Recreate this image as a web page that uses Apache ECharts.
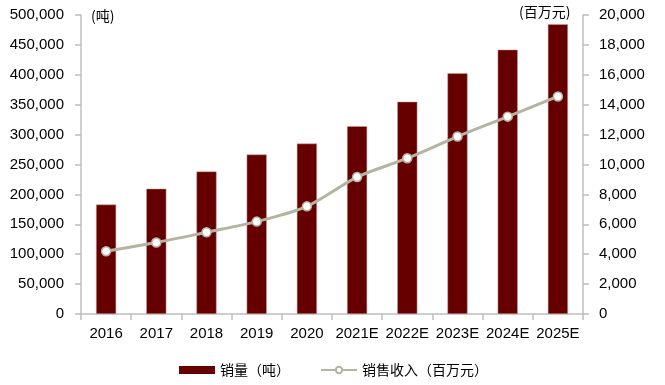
<!DOCTYPE html>
<html><head><meta charset="utf-8">
<script src="https://cdn.jsdelivr.net/npm/echarts@6/dist/echarts.min.js"></script>
<style>html,body{margin:0;padding:0;background:#fff}#c{width:665px;height:385px}</style>
</head><body><div id="c"></div>
<script>
const categories = ['2016','2017','2018','2019','2020','2021E','2022E','2023E','2024E','2025E'];
const salesVolume = [183000, 209500, 238300, 266700, 285000, 314000, 355000, 402500, 442000, 484500];
const salesRevenue = [4200, 4780, 5470, 6180, 7200, 9160, 10420, 11870, 13200, 14550];
const leftTicks = {min: 0, max: 500000, interval: 50000};
const rightTicks = {min: 0, max: 20000, interval: 2000};

const chart = echarts.init(document.getElementById('c'));
const fmt = v => v.toLocaleString('en-US');
const lab = {color: '#000', fontSize: 15, fontFamily: 'Liberation Sans, Arial'};
chart.setOption({
  animation: false,
  grid: {left: 81, right: 82, top: 15, bottom: 71},
  legend: {
    left: 174, top: 358, itemGap: 30, itemWidth: 36, itemHeight: 8,
    textStyle: {fontSize: 14, color: '#000', fontFamily: 'Noto Sans CJK SC'},
    data: [{name: '销量（吨）', icon: 'rect', itemStyle: {borderWidth: 0}}, {name: '销售收入（百万元）'}]
  },
  graphic: [
    {type: 'text', left: 91, top: 9, style: {text: '(吨)', fontSize: 14, fill: '#000', fontFamily: 'Noto Sans CJK SC'}},
    {type: 'text', left: 519, top: 5, style: {text: '(百万元)', fontSize: 14, fill: '#000', fontFamily: 'Noto Sans CJK SC'}}
  ],
  xAxis: {
    type: 'category', data: categories,
    axisLine: {lineStyle: {color: '#bfbfbf', width: 1.5}},
    axisTick: {show: true, length: 6, lineStyle: {color: '#bfbfbf', width: 1.5}},
    axisLabel: Object.assign({margin: 12, interval: 0}, lab)
  },
  yAxis: [
    {type: 'value', min: leftTicks.min, max: leftTicks.max, interval: leftTicks.interval,
     splitLine: {show: false},
     axisLine: {show: true, lineStyle: {color: '#bfbfbf', width: 1.5}},
     axisTick: {show: true, length: 6, lineStyle: {color: '#bfbfbf', width: 1.5}},
     axisLabel: Object.assign({margin: 17, formatter: fmt}, lab)},
    {type: 'value', min: rightTicks.min, max: rightTicks.max, interval: rightTicks.interval,
     splitLine: {show: false},
     axisLine: {show: true, lineStyle: {color: '#bfbfbf', width: 1.5}},
     axisTick: {show: true, length: 6, lineStyle: {color: '#bfbfbf', width: 1.5}},
     axisLabel: Object.assign({margin: 16, formatter: fmt}, lab)}
  ],
  series: [
    {name: '销量（吨）', type: 'bar', data: salesVolume, barWidth: '40%',
     itemStyle: {color: '#660000', borderColor: '#c9a0a0', borderWidth: 0.5}},
    {name: '销售收入（百万元）', type: 'line', yAxisIndex: 1, data: salesRevenue, smooth: 0.3,
     symbol: 'circle', symbolSize: 9,
     lineStyle: {color: '#b5b4a2', width: 3},
     itemStyle: {color: '#fff', borderColor: '#b5b4a2', borderWidth: 1.5}}
  ]
});
</script></body></html>
